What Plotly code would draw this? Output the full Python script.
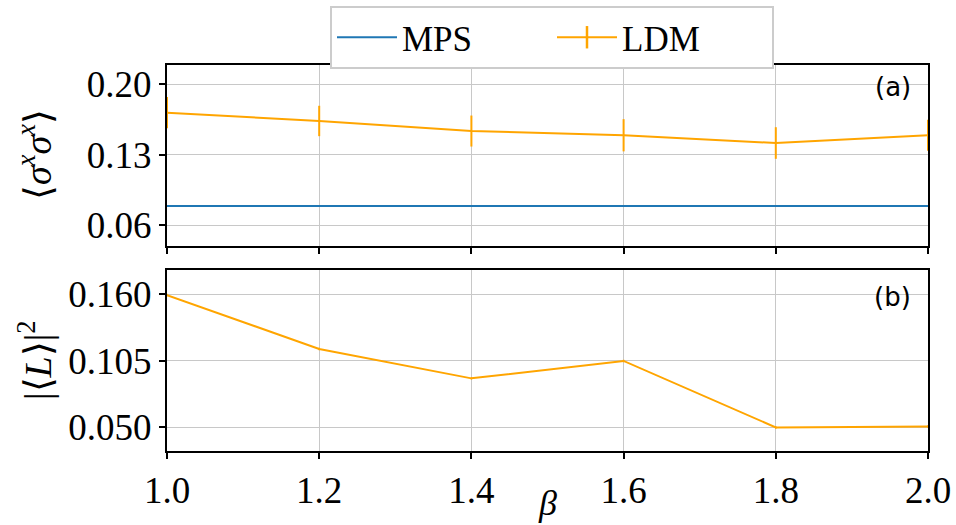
import plotly.graph_objects as go

# beta grid shared by both panels
beta = [1.0, 1.2, 1.4, 1.6, 1.8, 2.0]

# panel (a): <sigma^x sigma^x>
mps_sxsx = [0.0792] * len(beta)
ldm_sxsx = [0.1718, 0.1636, 0.1536, 0.1494, 0.1417, 0.1494]
ldm_sxsx_err = [0.0155, 0.0151, 0.0154, 0.0160, 0.0157, 0.0155]

# panel (b): |<L>|^2
ldm_L2 = [0.1594, 0.1148, 0.0905, 0.1049, 0.0499, 0.0507]
ldm_L2_err = [0.001, 0.001, 0.001, 0.001, 0.001, 0.001]

x_ticks = [1.0, 1.2, 1.4, 1.6, 1.8, 2.0]
ya_ticks = [0.06, 0.13, 0.20]
yb_ticks = [0.050, 0.105, 0.160]

BLUE = "#1f77b4"
ORANGE = "#ffa500"
SERIF = "Liberation Serif"
GRID = "#c8c8c8"

fig = go.Figure()

fig.add_trace(go.Scatter(x=beta, y=mps_sxsx, mode="lines", name="MPS",
                         line=dict(color=BLUE, width=2), xaxis="x2", yaxis="y2"))
fig.add_trace(go.Scatter(x=beta, y=ldm_sxsx, mode="lines", name="LDM", showlegend=False,
                         line=dict(color=ORANGE, width=2),
                         error_y=dict(type="data", array=ldm_sxsx_err, color=ORANGE,
                                      thickness=2, width=0),
                         xaxis="x2", yaxis="y2"))
fig.add_trace(go.Scatter(x=beta, y=ldm_L2, mode="lines", name="LDM", showlegend=False,
                         line=dict(color=ORANGE, width=2),
                         error_y=dict(type="data", array=ldm_L2_err, color=ORANGE,
                                      thickness=1.5, width=0),
                         xaxis="x", yaxis="y"))
# legend entry for LDM: line with a vertical error-bar glyph
fig.add_trace(go.Scatter(x=[None], y=[None], mode="lines+markers", name="LDM",
                         line=dict(color=ORANGE, width=2),
                         marker=dict(symbol="line-ns-open", size=22,
                                     line=dict(color=ORANGE, width=2.5)),
                         xaxis="x", yaxis="y"))

xdom = [167 / 956, 928 / 956]
axis_common = dict(showline=True, mirror=True, linecolor="black", linewidth=2,
                   ticks="outside", ticklen=6, tickwidth=1.5, tickcolor="black",
                   showgrid=True, gridcolor=GRID, gridwidth=1, zeroline=False,
                   automargin=False,
                   tickfont=dict(family=SERIF, size=37, color="black"))

fig.update_layout(
    width=956, height=525,
    margin=dict(l=0, r=0, t=0, b=0),
    paper_bgcolor="white", plot_bgcolor="white",
    xaxis=dict(domain=xdom, anchor="y", range=[1.0, 2.0], tickvals=x_ticks,
               tickformat=".1f", **axis_common),
    yaxis=dict(domain=[1 - 451 / 525, 1 - 269.7 / 525], anchor="x",
               range=[0.0304, 0.1804], tickvals=yb_ticks, tickformat=".3f",
               **axis_common),
    xaxis2=dict(domain=xdom, anchor="y2", range=[1.0, 2.0], tickvals=x_ticks,
                showticklabels=False, matches="x", **axis_common),
    yaxis2=dict(domain=[1 - 246 / 525, 1 - 65 / 525], anchor="x2",
                range=[0.0394, 0.2192], tickvals=ya_ticks, tickformat=".2f",
                **axis_common),
    legend=dict(orientation="h", x=552 / 956, xanchor="center", y=1 - 6 / 525,
                yanchor="top",
                font=dict(family=SERIF, size=35, color="black"),
                bordercolor="#cccccc", borderwidth=2, bgcolor="white",
                entrywidth=145, itemwidth=60, traceorder="normal"),
    showlegend=True,
)

fig.add_annotation(text="(a)", x=913 / 956, y=1 - 87 / 525, xref="paper", yref="paper",
                   xanchor="right", yanchor="middle", showarrow=False,
                   font=dict(family="DejaVu Sans", size=26, color="black"))
fig.add_annotation(text="(b)", x=913 / 956, y=1 - 297 / 525, xref="paper", yref="paper",
                   xanchor="right", yanchor="middle", showarrow=False,
                   font=dict(family="DejaVu Sans", size=26, color="black"))

# axis titles
fig.add_annotation(text="⟨<i>σ</i><sup><i>x</i></sup><i>σ</i><sup><i>x</i></sup>⟩",
                   x=35 / 956, y=1 - 155 / 525, xref="paper", yref="paper",
                   textangle=-90, showarrow=False, xanchor="center", yanchor="middle",
                   font=dict(family=SERIF, size=38, color="black"))
fig.add_annotation(text="|⟨<i>L</i>⟩|<sup>2</sup>",
                   x=35 / 956, y=1 - 360 / 525, xref="paper", yref="paper",
                   textangle=-90, showarrow=False, xanchor="center", yanchor="middle",
                   font=dict(family=SERIF, size=38, color="black"))
fig.add_annotation(text="<i>β</i>", x=547 / 956, y=0, xref="paper", yref="paper",
                   showarrow=False, xanchor="center", yanchor="bottom",
                   font=dict(family=SERIF, size=36, color="black"))

fig.write_html("out.html")
